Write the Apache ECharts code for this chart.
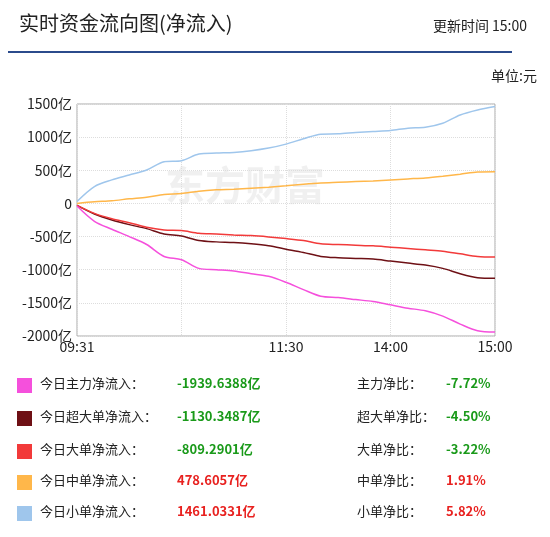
<!DOCTYPE html>
<html><head><meta charset="utf-8">
<script src="https://cdn.jsdelivr.net/npm/echarts@6/dist/echarts.min.js"></script>
<style>body{margin:0}#c{width:550px;height:537px}</style></head>
<body><div id="c"></div>
<script>
const times = ['09:31','09:40','09:50','10:00','10:10','10:20','10:30','10:40','10:50','11:00','11:10','11:20','11:30','13:10','13:20','13:30','13:40','13:50','14:00','14:10','14:20','14:30','14:40','14:50','15:00'];
const tickLabels = {0:'09:31',12:'11:30',18:'14:00',24:'15:00'};
const yTicks = [-2000,-1500,-1000,-500,0,500,1000,1500];
const mainFlow  = [-40,-270,-390,-500,-620,-800,-850,-980,-1000,-1020,-1060,-1100,-1190,-1300,-1400,-1420,-1450,-1480,-1530,-1580,-1620,-1700,-1820,-1920,-1939.6388];
const superFlow = [-30,-160,-250,-320,-380,-460,-490,-560,-580,-590,-610,-640,-690,-740,-800,-820,-830,-840,-870,-900,-930,-980,-1060,-1120,-1130.3487];
const bigFlow   = [-30,-150,-230,-290,-360,-400,-410,-450,-460,-475,-485,-505,-530,-560,-610,-620,-630,-640,-660,-680,-700,-720,-760,-800,-809.2901];
const midFlow   = [0,25,40,70,95,135,150,185,205,215,230,245,265,290,310,320,330,340,355,370,385,410,440,475,478.6057];
const smallFlow = [30,255,355,430,505,630,645,745,760,770,795,835,895,975,1045,1050,1070,1085,1100,1135,1150,1210,1335,1410,1461.0331];
const names = ['今日主力净流入：','今日超大单净流入：','今日大单净流入：','今日中单净流入：','今日小单净流入：'];
const values = ['-1939.6388亿','-1130.3487亿','-809.2901亿','478.6057亿','1461.0331亿'];
const ratioNames = ['主力净比：','超大单净比：','大单净比：','中单净比：','小单净比：'];
const ratios = ['-7.72%','-4.50%','-3.22%','1.91%','5.82%'];
const colors = ['#f550dc','#6e1015','#f23a3a','#ffb74a','#9fc6ec'];
const seriesData = [mainFlow, superFlow, bigFlow, midFlow, smallFlow];

const font = 'Microsoft YaHei, Noto Sans CJK SC, sans-serif';
const g = [
  {type:'text',left:19,top:13,style:{text:'实时资金流向图(净流入)',font:'20px '+font,fill:'#222'}},
  {type:'text',right:23,top:19,style:{text:'更新时间 15:00',font:'14px '+font,fill:'#222'}},
  {type:'rect',shape:{x:8,y:51,width:504,height:2},style:{fill:'#2b4b8c'}},
  {type:'text',right:13,top:69,style:{text:'单位:元',font:'14px '+font,fill:'#222'}},
  {type:'text',left:165,top:165,style:{text:'东方财富',font:'bold 40px '+font,fill:'rgba(0,0,0,0.06)'}}
];
const rowsY = [386,419,452,483,514];
rowsY.forEach((y,i)=>{
  const neg = values[i][0]==='-';
  g.push({type:'rect',shape:{x:17,y:y-8,width:15,height:15},style:{fill:colors[i]}});
  g.push({type:'text',left:40,top:y-9,style:{text:names[i],font:'13px '+font,fill:'#222'}});
  g.push({type:'text',left:177,top:y-9,style:{text:values[i],font:'bold 13px '+font,fill:neg?'#1a9a1a':'#e8211f'}});
  g.push({type:'text',left:357,top:y-9,style:{text:ratioNames[i],font:'13px '+font,fill:'#222'}});
  g.push({type:'text',left:446,top:y-9,style:{text:ratios[i],font:'bold 13px '+font,fill:neg?'#1a9a1a':'#e8211f'}});
});
const chart = echarts.init(document.getElementById('c'));
chart.setOption({
  animation:false,
  graphic:g,
  grid:{left:77,top:104,width:418,height:232,show:true,borderColor:'#aaa',borderWidth:1},
  xAxis:{type:'category',data:times,boundaryGap:false,
    axisLine:{show:false},axisTick:{show:false},
    axisLabel:{interval:0,formatter:(v,i)=>tickLabels[i]||'',color:'#222',fontSize:14,fontFamily:font,margin:4},
    splitLine:{show:true,interval:(i)=>i%6===0,lineStyle:{type:'dotted',color:'#ddd'}}},
  yAxis:{type:'value',min:-2000,max:1500,interval:500,
    axisLine:{show:false},axisTick:{show:false},
    axisLabel:{formatter:v=>v===0?'0':v+'亿',color:'#222',fontSize:14,fontFamily:font,margin:5},
    splitLine:{lineStyle:{type:'dotted',color:'#ddd'}}},
  series:seriesData.map((d,i)=>({type:'line',data:d,symbol:'none',smooth:0.3,lineStyle:{color:colors[i],width:1.5},z:i===0?5:3}))
});
</script></body></html>
